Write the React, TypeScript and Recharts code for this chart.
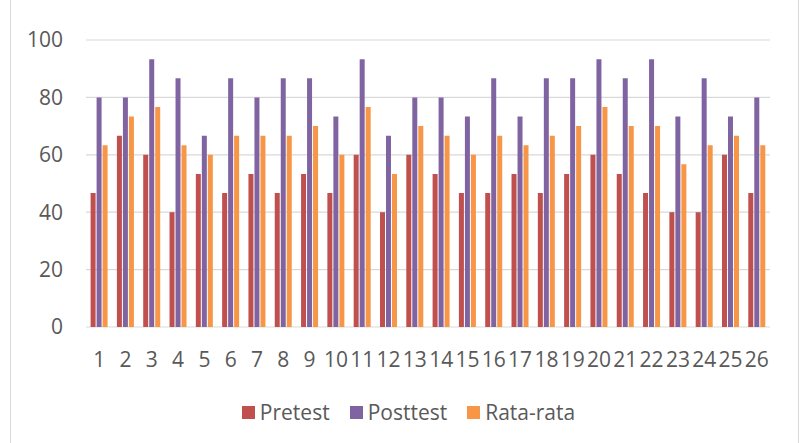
import { BarChart, Bar, XAxis, YAxis, CartesianGrid } from "recharts";

const categories = ["1","2","3","4","5","6","7","8","9","10","11","12","13","14","15","16","17","18","19","20","21","22","23","24","25","26"];

const pretest = [46.67, 66.67, 60, 40, 53.33, 46.67, 53.33, 46.67, 53.33, 46.67, 60, 40, 60, 53.33, 46.67, 46.67, 53.33, 46.67, 53.33, 60, 53.33, 46.67, 40, 40, 60, 46.67];
const posttest = [80, 80, 93.33, 86.67, 66.67, 86.67, 80, 86.67, 86.67, 73.33, 93.33, 66.67, 80, 80, 73.33, 86.67, 73.33, 86.67, 86.67, 93.33, 86.67, 93.33, 73.33, 86.67, 73.33, 80];
const rataRata = [63.33, 73.33, 76.67, 63.33, 60, 66.67, 66.67, 66.67, 70, 60, 76.67, 53.33, 70, 66.67, 60, 66.67, 63.33, 66.67, 70, 76.67, 70, 70, 56.67, 63.33, 66.67, 63.33];

const yTicks = [0, 20, 40, 60, 80, 100];

const series = [
  { key: "pretest", name: "Pretest", color: "#C0504D" },
  { key: "posttest", name: "Posttest", color: "#8064A2" },
  { key: "rata", name: "Rata-rata", color: "#F79646" },
];

const data = categories.map((c, i) => ({
  name: c,
  pretest: pretest[i],
  posttest: posttest[i],
  rata: rataRata[i],
}));

const font = "'Open Sans', sans-serif";
const textColor = "#595959";

export default function App() {
  return (
    <div style={{ position: "absolute", left: 0, top: 0, width: 803, height: 443, background: "#fff", fontFamily: font }}>
      <div
        style={{
          position: "absolute",
          left: 10,
          top: 0,
          width: 787,
          height: 443,
          borderLeft: "1px solid #d9d9d9",
          borderRight: "1px solid #d9d9d9",
        }}
      />
      <BarChart
        width={803}
        height={443}
        data={data}
        margin={{ top: 40, right: 33, left: 0, bottom: 56 }}
        barCategoryGap={4.6}
        barGap={1}
      >
        <CartesianGrid vertical={false} stroke="#d9d9d9" strokeWidth={1.2} />
        <XAxis
          dataKey="name"
          interval={0}
          axisLine={false}
          tickLine={false}
          tickSize={0}
          tickMargin={25}
          height={60}
          tick={{ fill: textColor, fontSize: 21, fontFamily: font }}
        />
        <YAxis
          domain={[0, 100]}
          ticks={yTicks}
          axisLine={false}
          tickLine={false}
          tickSize={0}
          tickMargin={23}
          width={86}
          tick={{ fill: textColor, fontSize: 21, fontFamily: font }}
        />
        {series.map((s) => (
          <Bar key={s.key} dataKey={s.key} name={s.name} fill={s.color} isAnimationActive={false} />
        ))}
      </BarChart>
      <div
        style={{
          position: "absolute",
          left: 0,
          top: 398,
          width: 803,
          display: "flex",
          justifyContent: "center",
          paddingLeft: 34,
          boxSizing: "border-box",
        }}
      >
        {series.map((s) => (
          <div key={s.key} style={{ display: "flex", alignItems: "center", marginRight: 20 }}>
            <span style={{ width: 13, height: 13, background: s.color, display: "inline-block", marginRight: 5 }} />
            <span style={{ color: textColor, fontSize: 21, lineHeight: "28px" }}>{s.name}</span>
          </div>
        ))}
      </div>
    </div>
  );
}
